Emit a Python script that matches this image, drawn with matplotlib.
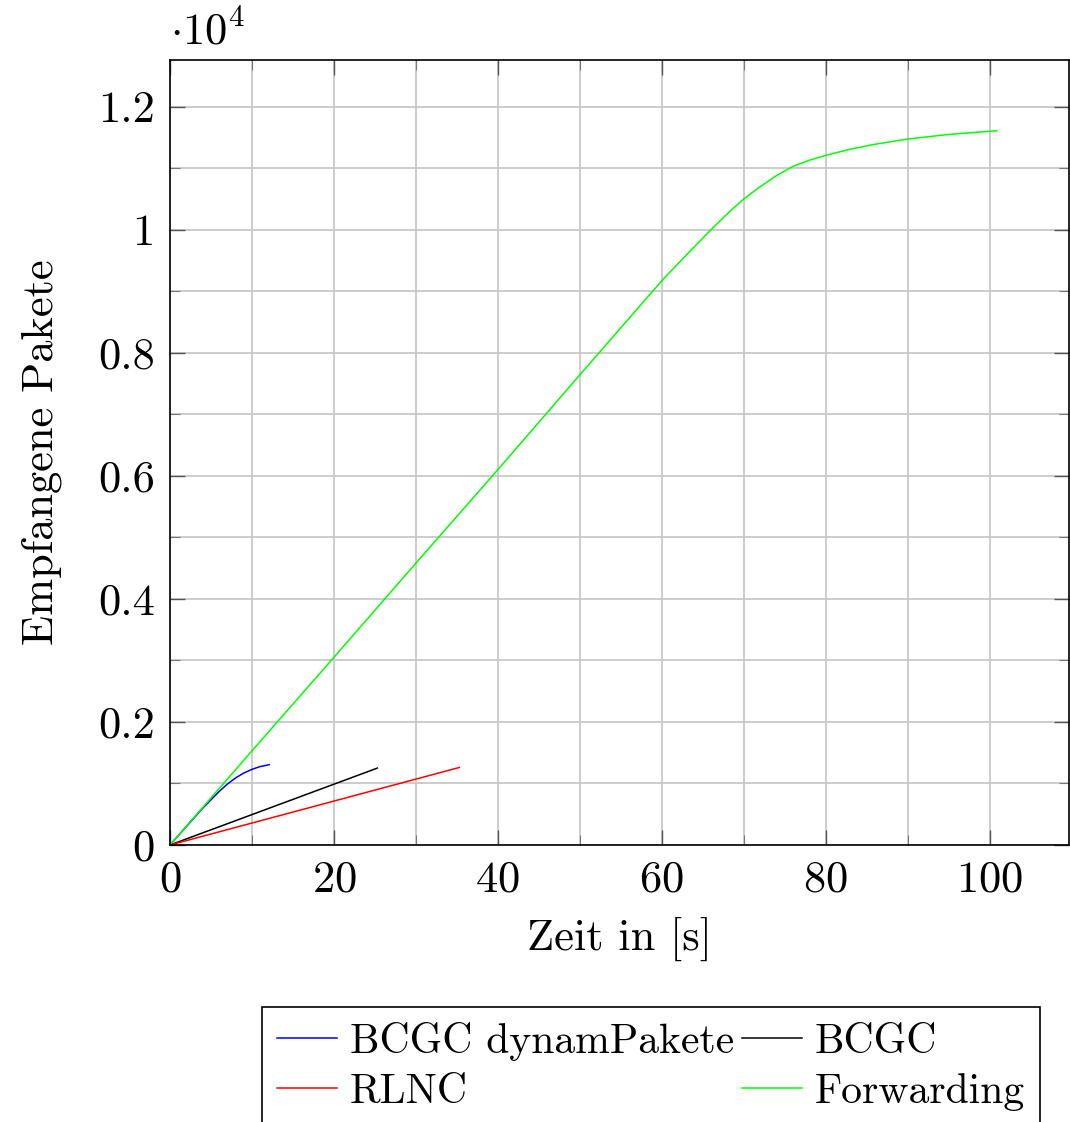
import matplotlib
matplotlib.use("Agg")
from matplotlib import pyplot as plt
from matplotlib.ticker import FuncFormatter, MultipleLocator

plt.rcParams["font.family"] = "cmr10"
plt.rcParams["mathtext.fontset"] = "cm"
plt.rcParams["axes.formatter.use_mathtext"] = True

FONT_SIZE = 32

# data
t_dyn = [0, 2, 4, 6, 7, 8, 9, 10, 11, 12.1]
pk_dyn = [0, 300, 600, 870, 990, 1090, 1170, 1230, 1275, 1305]

t_bcgc = [0, 25.3]
pk_bcgc = [0, 1250]

t_rlnc = [0, 35.3]
pk_rlnc = [0, 1260]

t_fwd = [0, 10, 20, 30, 40, 50, 60, 63, 66, 68, 70, 72, 74, 76, 78, 80, 83, 86, 90, 95, 100.9]
pk_fwd = [0, 1530, 3050, 4580, 6100, 7640, 9170, 9590, 10000, 10260, 10500, 10700, 10880, 11030, 11130,
          11210, 11310, 11390, 11475, 11550, 11610]

labels = ["BCGC dynamPakete", "BCGC", "RLNC", "Forwarding"]

fig = plt.figure(figsize=(10.7, 11.22), dpi=100)
ax = fig.add_axes([170 / 1070, 1 - 845 / 1122, 899 / 1070, 785 / 1122])

lw = 1.1
h_dyn, = ax.plot(t_dyn, pk_dyn, color="blue", lw=lw)
h_bcgc, = ax.plot(t_bcgc, pk_bcgc, color="black", lw=lw)
h_rlnc, = ax.plot(t_rlnc, pk_rlnc, color="red", lw=lw)
h_fwd, = ax.plot(t_fwd, pk_fwd, color="#00ff00", lw=lw)

ax.set_xlim(0, 109.7)
ax.set_ylim(0, 12760)
ax.xaxis.set_major_locator(MultipleLocator(20))
ax.xaxis.set_minor_locator(MultipleLocator(10))
ax.yaxis.set_major_locator(MultipleLocator(2000))
ax.yaxis.set_minor_locator(MultipleLocator(1000))
ax.yaxis.set_major_formatter(FuncFormatter(lambda v, p: f"{v / 1e4:g}"))

ax.grid(True, which="both", color="#c8c8c8", lw=1.3)
ax.set_axisbelow(True)
ax.tick_params(which="major", direction="in", length=11, width=1.0, color="#555555",
               top=True, right=True, labelsize=FONT_SIZE, pad=11)
ax.tick_params(which="minor", direction="in", length=7, width=0.8, color="#777777",
               top=True, right=True)
for s in ax.spines.values():
    s.set_linewidth(1.2)

ax.set_xlabel("Zeit in [s]", fontsize=FONT_SIZE, labelpad=12)
ax.set_ylabel("Empfangene Pakete", fontsize=FONT_SIZE, labelpad=26)
fig.text(170 / 1070, 1 - 32 / 1122, r"$\cdot 10^{4}$", fontsize=FONT_SIZE, va="center", ha="left")

# legend is filled row by row in the reference
order = [h_dyn, h_rlnc, h_bcgc, h_fwd]
order_labels = [labels[0], labels[2], labels[1], labels[3]]
leg = fig.legend(order, order_labels, ncol=2, loc="upper left",
                 bbox_to_anchor=(262 / 1070, 1 - 1007 / 1122), borderaxespad=0,
                 prop={"family": "cmr10", "size": 30},
                 frameon=True, fancybox=False, edgecolor="black", framealpha=1,
                 handlelength=1.45, handletextpad=0.3, columnspacing=0.2,
                 borderpad=0.35, labelspacing=0.3)
leg.get_frame().set_linewidth(1.2)

fig.savefig("out.png", dpi=100)
